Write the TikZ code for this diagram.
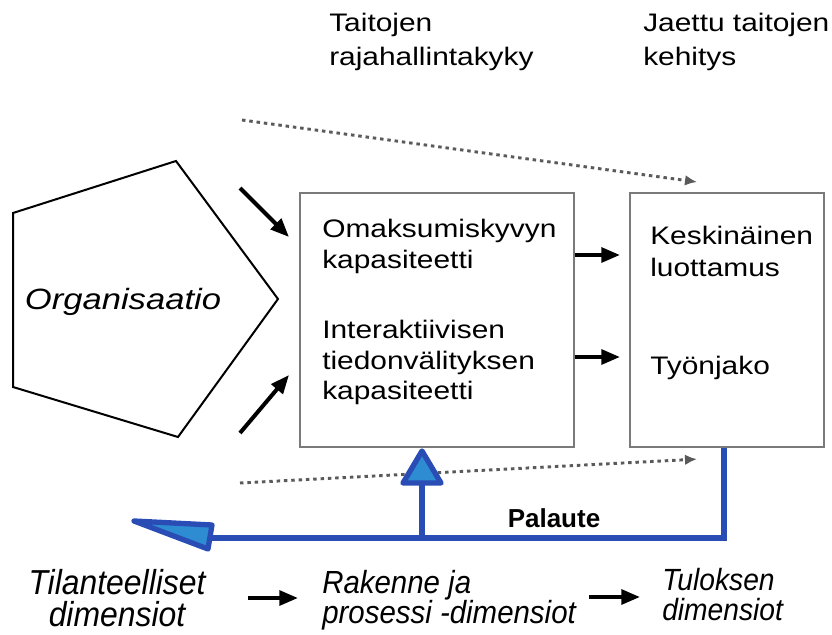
\documentclass[tikz,border=0pt]{standalone}
\usepackage{fontspec}
\setmainfont{Liberation Sans}
\newfontfamily\widesans[FakeStretch=1.18]{Liberation Sans}
\newfontfamily\narrowsans[FakeStretch=0.92]{Liberation Sans}
\usetikzlibrary{arrows.meta,calc}
\definecolor{fbline}{HTML}{2A4DB5}
\definecolor{fbfill}{HTML}{2E8CD2}
\definecolor{boxgray}{HTML}{7A7A7A}
\definecolor{dotgray}{HTML}{5A5A5A}
\begin{document}
\begin{tikzpicture}[x=0.75pt,y=-0.75pt,
  box/.style={draw=boxgray,line width=1.6pt,rectangle,inner sep=0pt,anchor=north west},
  txt/.style={anchor=north west,inner sep=0pt,align=left,font=\widesans\fontsize{19}{23}\selectfont},
  head/.style={txt,font=\widesans\fontsize{19}{25.5}\selectfont},
  itx/.style={anchor=north west,inner sep=0pt,align=left},
  arr/.style={line width=3pt,-{Triangle[length=14pt,width=11pt]}},
  dotarr/.style={draw=dotgray,line width=2.2pt,dash pattern=on 2.6pt off 2.9pt,-{Latex[length=9pt,width=8pt]}},
  fb/.style={draw=fbline,line width=4.5pt},
]
\useasboundingbox (0,0) rectangle (832,635);

% organisation pentagon
\coordinate (p1) at (13,213);
\coordinate (p2) at (176,161);
\coordinate (p3) at (278,299);
\coordinate (p4) at (178,437);
\coordinate (p5) at (13,387);
\draw[line width=1.5pt,line join=miter] (p1)--(p2)--(p3)--(p4)--(p5)--cycle;
\node[inner sep=0pt,font=\widesans\fontsize{22}{26}\selectfont\itshape] (org) at (123,302) {Organisaatio};

% the two boxes
\node[box,minimum width=274*0.75pt,minimum height=254*0.75pt] (b1) at (299,192) {};
\node[box,minimum width=194*0.75pt,minimum height=254*0.75pt] (b2) at (629,192) {};

% box texts
\node[txt] (t1) at (322,219) {Omaksumiskyvyn\\kapasiteetti};
\node[txt] (t2) at (322,320) {Interaktiivisen\\tiedonvälityksen\\kapasiteetti};
\node[txt,font=\widesans\fontsize{19}{24}\selectfont] (t3) at (650,226) {Keskinäinen\\luottamus};
\node[txt] (t4) at (650,356) {Työnjako};

% headings
\node[head] (h1) at (329,13) {Taitojen\\rajahallintakyky};
\node[head] (h2) at (643,13) {Jaettu taitojen\\kehitys};

% arrows from the organisation
\coordinate (a1s) at (240,188);
\coordinate (a2s) at (240,433);
\draw[arr] (a1s) -- ($(b1.north west)+(-10,45)$);
\draw[arr] (a2s) -- ($(b1.north west)+(-10,183)$);

% arrows between the boxes
\draw[arr] ($(b1.north east)+(0,63)$) -- ($(b2.north west)+(-9,63)$);
\draw[arr] ($(b1.north east)+(0,165)$) -- ($(b2.north west)+(-9,165)$);

% dotted arrows
\coordinate (d1s) at (242,120);
\coordinate (d2s) at (240,483);
\draw[dotarr] (d1s) -- ($(b2.north west)+(68,-10)$);
\draw[dotarr] (d2s) -- ($(b2.south west)+(68,11)$);

% feedback loop
\coordinate (fbr) at ($(b2.south west)+(95,0)$);
\coordinate (fbc) at (724,538);
\coordinate (fbu) at (422,538);
\coordinate (fbl) at (211,538);
\draw[fb,line join=miter] (fbr) -- (fbc) -- (fbl);
\draw[fb] (fbu) -- (422,484);
\draw[fb,fill=fbfill,line width=4pt,line join=round] (403,483) -- (441,483) -- (422,451) -- cycle;
\draw[fb,fill=fbfill,line width=4pt,line join=round] (212,525) -- (134,521) -- (208,549) -- cycle;
\node[inner sep=0pt,font=\fontsize{19.5}{24}\selectfont\bfseries] (pal) at (554,518) {Palaute};

% dimensions row
\node[itx,anchor=north,align=center,font=\narrowsans\fontsize{26}{24}\selectfont\itshape] (dim1) at (117,569) {Tilanteelliset\\dimensiot};
\node[itx,font=\narrowsans\fontsize{24}{22.5}\selectfont\itshape] (dim2) at (322,570) {Rakenne ja\\prosessi -dimensiot};
\node[itx,font=\narrowsans\fontsize{23}{22.5}\selectfont\itshape] (dim3) at (662,568) {Tuloksen\\dimensiot};
\draw[arr] (248,598) -- (298,598);
\draw[arr] (589,597) -- (640,597);
\end{tikzpicture}
\end{document}
